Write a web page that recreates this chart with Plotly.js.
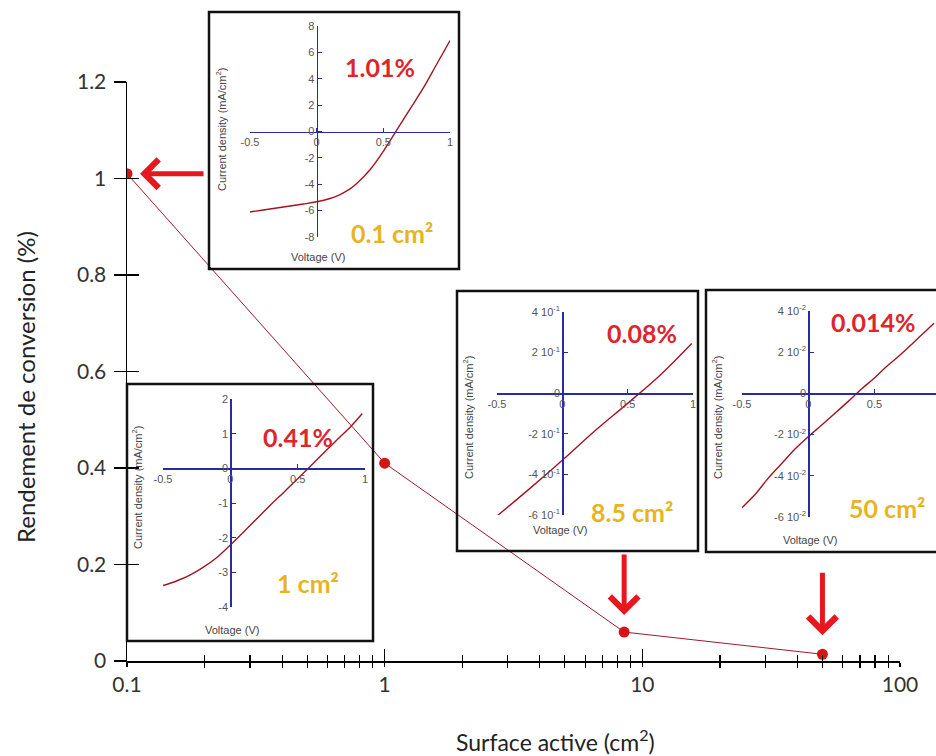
<!DOCTYPE html>
<html><head><meta charset="utf-8">
<script src="https://cdn.plot.ly/plotly-3.0.1.min.js"></script>
<style>html,body{margin:0;padding:0;background:#fff}</style>
</head><body><div id="chart" style="width:936px;height:756px"></div>
<script>
// ---------- data ----------
const surfaceArea = [0.1, 1, 8.5, 50];
const efficiency = [1.01, 0.41, 0.06, 0.014];
const efficiencyLabels = ['1.01%', '0.41%', '0.08%', '0.014%'];
const areaLabels = ['0.1 cm²', '1 cm²', '8.5 cm²', '50 cm²'];
const xTickVals = [0.1, 1, 10, 100];
const xTickText = ['0.1', '1', '10', '100'];
const xMinorVals = [0.2,0.3,0.4,0.5,0.6,0.7,0.8,0.9, 2,3,4,5,6,7,8,9, 20,30,40,50,60,70,80,90];
const yTickVals = [0, 0.2, 0.4, 0.6, 0.8, 1, 1.2];

const insetXTicks = [-0.5, 0, 0.5, 1];
const insetXText = ['-0.5', '0', '0.5', '1'];

const voltage1 = [-0.5,-0.4,-0.3,-0.2,-0.1,0,0.1,0.15,0.2,0.25,0.3,0.4,0.5,0.6,0.7,0.8,0.9,1];
const current1 = [-6.1,-5.95,-5.8,-5.65,-5.5,-5.33,-5.08,-4.9,-4.65,-4.35,-3.95,-2.9,-1.5,0.1,1.7,3.3,5.1,6.9];
const yTicks1 = [-8,-6,-4,-2,0,2,4,6,8];
const yText1 = ['-8','-6','-4','-2','0','2','4','6','8'];

const voltage2 = [-0.5,-0.4,-0.3,-0.2,-0.1,0,0.1,0.2,0.3,0.4,0.5,0.6,0.7,0.8,0.9,0.98];
const current2 = [-3.38,-3.25,-3.08,-2.85,-2.57,-2.21,-1.83,-1.44,-1.05,-0.68,-0.3,0.08,0.47,0.85,1.23,1.58];
const yTicks2 = [-4,-3,-2,-1,0,1,2];
const yText2 = ['-4','-3','-2','-1','0','1','2'];

const voltage3 = [-0.5,-0.25,0,0.25,0.5,0.75,0.99];
const current3 = [-0.605,-0.47,-0.33,-0.185,-0.05,0.09,0.245];
const yTicks3 = [-0.6,-0.4,-0.2,0,0.2,0.4];
const yText3 = ['-6 10<sup>-1</sup>','-4 10<sup>-1</sup>','-2 10<sup>-1</sup>','0','2 10<sup>-1</sup>','4 10<sup>-1</sup>'];

const voltage4 = [-0.5,-0.4,-0.3,-0.2,-0.1,0,0.1,0.2,0.3,0.4,0.5,0.6,0.7,0.8,0.9,0.95];
const current4 = [-0.0555,-0.049,-0.041,-0.034,-0.027,-0.021,-0.0155,-0.0098,-0.004,0.002,0.0075,0.0135,0.019,0.025,0.031,0.034];
const yTicks4 = [-0.06,-0.04,-0.02,0,0.02,0.04];
const yText4 = ['-6 10<sup>-2</sup>','-4 10<sup>-2</sup>','-2 10<sup>-2</sup>','0','2 10<sup>-2</sup>','4 10<sup>-2</sup>'];

// ---------- layout helpers ----------
const W = 936, H = 756;
const px = x => x / W;
const py = y => 1 - y / H;
const NAVY = '#2b2ba0';
const CURVE = '#a3141f';
const MAINFONT = 'Lato, "Open Sans", sans-serif';
const SMALLFONT = '"Liberation Sans", Arial, sans-serif';

const layout = {
  width: W, height: H,
  margin: {l: 0, r: 0, t: 0, b: 0, pad: 0},
  paper_bgcolor: '#fff',
  plot_bgcolor: 'rgba(0,0,0,0)',
  showlegend: false,
  xaxis: {
    type: 'log', range: [-1, 2], domain: [px(127), px(900)], anchor: 'y',
    showline: true, linecolor: '#000', linewidth: 1.5,
    ticks: 'outside', ticklen: 4, tickwidth: 1.3, tickcolor: '#000',
    tickvals: xTickVals, ticktext: xTickText,
    tickfont: {family: MAINFONT, size: 21, color: '#333'},
    ticklabelstandoff: 0,
    minor: {tickvals: xMinorVals, ticks: 'outside', ticklen: 5, tickwidth: 1.2, tickcolor: '#000', showgrid: false},
    showgrid: false, zeroline: false, fixedrange: true
  },
  xaxis2: {
    type: 'log', range: [-1, 2], overlaying: 'x', anchor: 'y',
    ticks: 'inside', ticklen: 12, tickwidth: 1.3, tickcolor: '#000',
    tickvals: xTickVals, showticklabels: false, showline: false,
    minor: {tickvals: xMinorVals, ticks: 'inside', ticklen: 6, tickwidth: 1.2, tickcolor: '#000', showgrid: false},
    showgrid: false, zeroline: false, fixedrange: true
  },
  yaxis: {
    range: [0, 1.2], domain: [py(661), py(82)], anchor: 'x',
    showline: true, linecolor: '#000', linewidth: 1.5,
    ticks: 'outside', ticklen: 12, tickwidth: 1.3, tickcolor: '#000',
    tickvals: yTickVals,
    tickfont: {family: MAINFONT, size: 21, color: '#333'},
    ticklabelstandoff: 3,
    showgrid: false, zeroline: false, fixedrange: true
  },
  yaxis2: {
    range: [0, 1.2], overlaying: 'y', anchor: 'x',
    ticks: 'inside', ticklen: 12, tickwidth: 1.3, tickcolor: '#000',
    tickvals: yTickVals, showticklabels: false, showline: false,
    showgrid: false, zeroline: false, fixedrange: true
  },
  shapes: [],
  annotations: []
};

const traces = [
  {x: surfaceArea, y: efficiency, xaxis: 'x', yaxis: 'y', mode: 'lines',
   line: {color: '#9c1a2a', width: 1}, hoverinfo: 'skip'},
  {x: surfaceArea, y: efficiency, xaxis: 'x2', yaxis: 'y2', mode: 'markers',
   marker: {color: '#d41515', size: 11}, hoverinfo: 'skip'}
];

function label(xPx, yPx, text, font, angle) {
  return {xref: 'paper', yref: 'paper', x: px(xPx), y: py(yPx), xanchor: 'center', yanchor: 'middle',
          showarrow: false, text: text, font: font, textangle: angle || 0};
}

// inset geometry (pixel positions of plot area, box and text)
const insets = [
  {v: voltage1, j: current1, yr: [-8, 8], xr: [-0.5, 1], ytv: yTicks1, ytt: yText1,
   xPx: [250, 450], yPx: [26, 237], box: [209, 12, 459, 269],
   eff: [380, 67], area: [392, 233], volt: [318, 257], cur: [221, 130]},
  {v: voltage2, j: current2, yr: [-4, 2], xr: [-0.5, 1], ytv: yTicks2, ytt: yText2,
   xPx: [163, 365], yPx: [399, 607], box: [127, 384, 373, 641],
   eff: [298, 437], area: [308, 583], volt: [232, 630], cur: [137, 488]},
  {v: voltage3, j: current3, yr: [-0.6, 0.4], xr: [-0.5, 1], ytv: yTicks3, ytt: yText3,
   xPx: [497, 693], yPx: [312, 515], box: [457, 291, 698, 551],
   eff: [642, 333], area: [632, 512], volt: [560, 530], cur: [468, 418]},
  {v: voltage4, j: current4, yr: [-0.06, 0.04], xr: [-0.5, 0.965], ytv: yTicks4, ytt: yText4,
   xPx: [742, 936], yPx: [311, 517], box: [706, 290, 960, 552],
   eff: [873, 322], area: [887, 508], volt: [810, 540], cur: [717, 418]}
];

insets.forEach((ins, k) => {
  const n = k + 3;
  const xd = [px(ins.xPx[0]), px(ins.xPx[1])];
  const yd = [py(ins.yPx[1]), py(ins.yPx[0])];
  const xZero = xd[0] + (0 - ins.xr[0]) / (ins.xr[1] - ins.xr[0]) * (xd[1] - xd[0]);
  const yZero = yd[0] + (0 - ins.yr[0]) / (ins.yr[1] - ins.yr[0]) * (yd[1] - yd[0]);
  layout['xaxis' + n] = {
    domain: xd, range: ins.xr, anchor: 'free', position: yZero,
    showline: true, linecolor: NAVY, linewidth: 1.3,
    ticks: 'inside', ticklen: 4, tickwidth: 1, tickcolor: NAVY,
    tickvals: insetXTicks, ticktext: insetXText,
    tickfont: {family: SMALLFONT, size: 11, color: '#555'},
    showgrid: false, zeroline: false, fixedrange: true
  };
  layout['yaxis' + n] = {
    domain: yd, range: ins.yr, anchor: 'free', position: xZero,
    showline: true, linecolor: NAVY, linewidth: 1.3,
    ticks: 'inside', ticklen: 4, tickwidth: 1, tickcolor: NAVY,
    tickvals: ins.ytv, ticktext: ins.ytt,
    tickfont: {family: SMALLFONT, size: 11, color: '#555'},
    showgrid: false, zeroline: false, fixedrange: true
  };
  traces.push({x: ins.v, y: ins.j, xaxis: 'x' + n, yaxis: 'y' + n, mode: 'lines',
    line: {color: CURVE, width: 1.4, shape: 'spline', smoothing: 1}, hoverinfo: 'skip'});
  layout.shapes.push({type: 'rect', xref: 'paper', yref: 'paper',
    x0: px(ins.box[0]), x1: px(ins.box[2]), y0: py(ins.box[3]), y1: py(ins.box[1]),
    line: {color: '#111', width: 2.5}, fillcolor: 'rgba(0,0,0,0)'});
  layout.annotations.push(
    label(ins.eff[0], ins.eff[1], efficiencyLabels[k], {family: MAINFONT, size: 25, color: '#e0242c', weight: 700}),
    label(ins.area[0], ins.area[1], areaLabels[k], {family: MAINFONT, size: 25, color: '#e8b41e', weight: 700}),
    label(ins.volt[0], ins.volt[1], 'Voltage (V)', {family: SMALLFONT, size: 11, color: '#444'}),
    label(ins.cur[0], ins.cur[1], 'Current density (mA/cm<sup>2</sup>)', {family: SMALLFONT, size: 11, color: '#444'}, -90)
  );
});

// main axis titles
layout.annotations.push(
  label(26, 387, 'Rendement de conversion (%)', {family: MAINFONT, size: 24, color: '#222'}, -90),
  label(555, 740, 'Surface active (cm<sup>2</sup>)', {family: MAINFONT, size: 23, color: '#222'})
);

// red arrows pointing at the data points
const arrowSpecs = [
  {i: 0, ax: 78, ay: 0, standoff: 13},
  {i: 2, ax: 0, ay: -79, standoff: 17},
  {i: 3, ax: 0, ay: -83, standoff: 19}
];
arrowSpecs.forEach(a => {
  layout.annotations.push({
    xref: 'x', yref: 'y', x: Math.log10(surfaceArea[a.i]), y: efficiency[a.i],
    ax: a.ax, ay: a.ay, text: '', showarrow: true,
    arrowhead: 4, arrowsize: 1.1, arrowwidth: 5, arrowcolor: '#e8161e', standoff: a.standoff
  });
});

Plotly.newPlot('chart', traces, layout, {displayModeBar: false, staticPlot: true});
</script>
</body></html>
